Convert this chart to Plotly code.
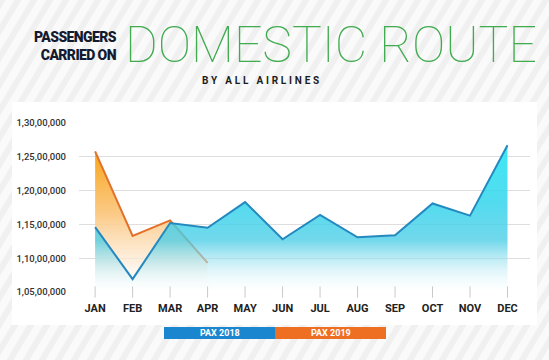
import plotly.graph_objects as go

months = ["JAN", "FEB", "MAR", "APR", "MAY", "JUN", "JUL", "AUG", "SEP", "OCT", "NOV", "DEC"]
pax_2018 = [11460000, 10690000, 11520000, 11450000, 11830000, 11280000, 11640000, 11310000, 11340000, 11810000, 11630000, 12670000]
months_2019 = ["JAN", "FEB", "MAR", "APR"]
pax_2019 = [12580000, 11330000, 11560000, 10930000]
y_tickvals = [10500000, 11000000, 11500000, 12000000, 12500000, 13000000]
y_ticktext = ["1,05,00,000", "1,10,00,000", "1,15,00,000", "1,20,00,000", "1,25,00,000", "1,30,00,000"]

W, H = 549, 360
ML, MR, MT, MB = 79, 19, 123, 68
PW, PH = W - ML - MR, H - MT - MB


def px(x):
    return (x - ML) / PW


def py(y):
    return (H - MB - y) / PH


fig = go.Figure()

fig.add_trace(go.Scatter(
    x=months_2019, y=pax_2019, mode="lines", name="PAX 2019",
    line=dict(color="#e2712b", width=2),
    fill="tozeroy",
    fillgradient=dict(type="vertical", start=10500000, stop=12580000,
                      colorscale=[[0, "rgba(255,255,255,0)"],
                                  [0.2, "rgba(253,235,215,0.7)"],
                                  [0.55, "rgba(251,200,130,0.95)"],
                                  [1, "rgba(248,165,25,1)"]]),
    showlegend=False, hoverinfo="skip",
))

fig.add_trace(go.Scatter(
    x=months, y=pax_2018, mode="lines", name="PAX 2018",
    line=dict(color="#2389bf", width=2),
    fill="tozeroy",
    fillgradient=dict(type="vertical", start=10500000, stop=12670000,
                      colorscale=[[0, "rgba(255,255,255,0.2)"],
                                  [0.15, "rgba(190,235,245,0.5)"],
                                  [0.35, "rgba(75,205,230,0.78)"],
                                  [0.6, "rgba(50,212,236,0.84)"],
                                  [1, "rgba(40,230,243,0.9)"]]),
    showlegend=False, hoverinfo="skip",
))

fig.add_trace(go.Scatter(
    x=months, y=[y_tickvals[0]] * len(months), mode="markers",
    marker=dict(symbol="line-ns", size=8, line=dict(color="#c9c9c9", width=1)),
    cliponaxis=False, showlegend=False, hoverinfo="skip",
))

shapes = []
# striped background
step = 16
c = -300
while c < W + 50:
    shapes.append(dict(type="line", xref="paper", yref="paper",
                       x0=px(c), y0=py(H + 10), x1=px(c + (H + 20) * 0.6), y1=py(-10),
                       line=dict(color="#f0f0f0", width=6), layer="below"))
    c += step
# card
shapes.append(dict(type="rect", xref="paper", yref="paper",
                   x0=px(12), x1=px(537), y0=py(325), y1=py(102),
                   fillcolor="white", line=dict(width=0), layer="below"))
# legend boxes
shapes.append(dict(type="rect", xref="paper", yref="paper",
                   x0=px(164), x1=px(275), y0=py(339), y1=py(327),
                   fillcolor="#1a86cf", line=dict(width=0)))
shapes.append(dict(type="rect", xref="paper", yref="paper",
                   x0=px(275), x1=px(386), y0=py(339), y1=py(327),
                   fillcolor="#ee6e22", line=dict(width=0)))

annotations = [
    dict(text='<span style="letter-spacing:-0.6px">PASSENGERS<br>CARRIED ON</span>',
         x=px(119), y=py(46), xref="paper", yref="paper",
         xanchor="right", yanchor="middle", align="right", showarrow=False,
         font=dict(family="Roboto", size=14, color="#141a30", weight=900)),
    dict(text="DOMESTIC ROUTE",
         x=px(123), y=py(45), xref="paper", yref="paper",
         xanchor="left", yanchor="middle", showarrow=False,
         font=dict(family="Roboto", size=50, color="#41ab50", weight=100)),
    dict(text='<span style="letter-spacing:2.8px">BY ALL AIRLINES</span>', x=px(262), y=py(80),
         xref="paper", yref="paper", xanchor="center", yanchor="middle", showarrow=False,
         font=dict(family="Roboto", size=10, color="#1c1c1c", weight="bold")),
    dict(text="PAX 2018", x=px(219.5), y=py(333), xref="paper", yref="paper",
         xanchor="center", yanchor="middle", showarrow=False,
         font=dict(family="Roboto", size=9, color="white", weight="bold")),
    dict(text="PAX 2019", x=px(330.5), y=py(333), xref="paper", yref="paper",
         xanchor="center", yanchor="middle", showarrow=False,
         font=dict(family="Roboto", size=9, color="white", weight="bold")),
]

fig.update_layout(
    width=W, height=H,
    margin=dict(l=ML, r=MR, t=MT, b=MB),
    paper_bgcolor="#fafafa", plot_bgcolor="rgba(0,0,0,0)",
    shapes=shapes, annotations=annotations, showlegend=False,
    xaxis=dict(type="category", categoryorder="array", categoryarray=months,
               range=[-0.43, 11.6], showgrid=False, zeroline=False, showline=False,
               ticks="", ticklabelstandoff=8, fixedrange=True,
               tickfont=dict(family="Roboto", size=11, color="#222222", weight="bold")),
    yaxis=dict(range=[10500000, 13000000], tickvals=y_tickvals, ticktext=y_ticktext,
               showgrid=True, gridcolor="#dedede", gridwidth=1, zeroline=False,
               showline=False, ticks="", ticklabelstandoff=12, fixedrange=True,
               tickfont=dict(family="Roboto", size=9.5, color="#333333", weight=500)),
)

fig.write_html("out.html", config={"displayModeBar": False},
               post_script="document.body.style.margin='0';document.body.style.overflow='hidden';")
